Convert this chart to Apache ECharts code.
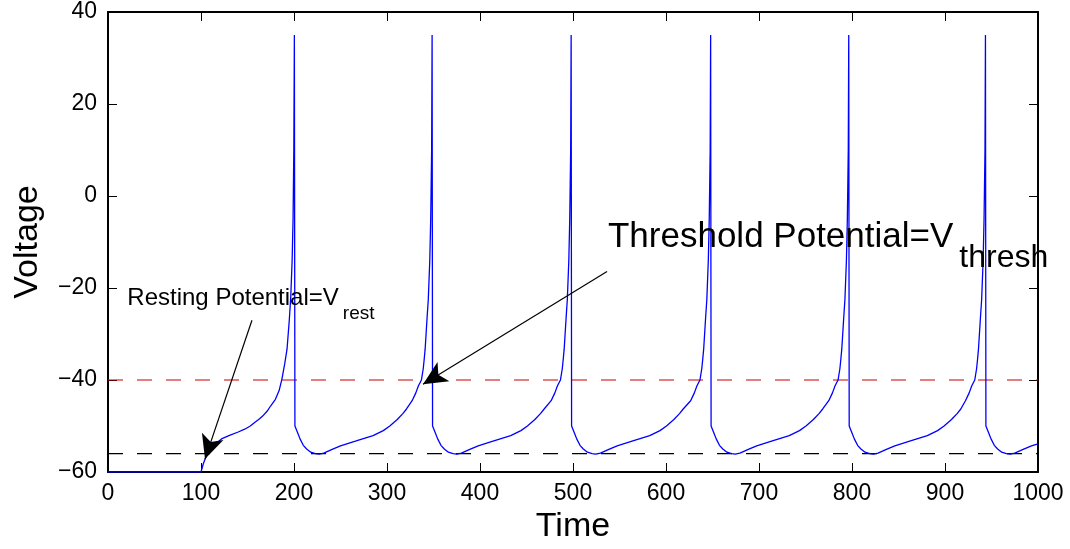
<!DOCTYPE html>
<html>
<head>
<meta charset="utf-8">
<script src="https://cdn.jsdelivr.net/npm/echarts@6/dist/echarts.min.js"></script>
<style>
html,body{margin:0;padding:0;background:#fff;}
#c{width:1070px;height:549px;}
</style>
</head>
<body>
<div id="c"></div>
<script>
// ---- data ----
const xTicks = [0, 100, 200, 300, 400, 500, 600, 700, 800, 900, 1000];
const yTicks = [-60, -40, -20, 0, 20, 40];
const thresholdV = -40;
const restV = -56;
// membrane trace [time, voltage]
const traceInitial = [[0,-60],[100,-60],[101,-59.3],[102.5,-58.2],[104,-57.4],[106,-56.5],[108,-55.8],[111,-54.9],[115,-54],[122,-52.8],[130,-52.1],[140,-51.3],[147,-50.7],[153,-50],[158,-49.2],[162,-48.6],[166,-47.9],[171,-46.8],[175,-45.6],[180,-44.2],[184,-42.3],[187,-39.8],[190,-36.5],[192.5,-33.3],[195,-26.8],[196.5,-22],[198,-14],[199,-5],[199.8,10],[200.4,35],[201,-50]];
const traceCycle1 = [[204,-51.5],[206.5,-52.8],[210,-54.2],[213.6,-55],[218,-55.7],[223,-56],[227,-56.1],[232,-55.9],[241,-55.1],[250,-54.3],[266,-53.3],[285,-52.1],[296,-51],[303,-50],[311,-48.6],[317,-47.3],[321,-46.3],[327,-44.5],[331,-42.8],[333.7,-41.3],[337,-40],[339,-37.5],[340,-35.5],[341,-33.3],[343,-26.8],[344.4,-22.5],[346,-14],[347,-5],[348,10],[348.5,35],[349,-50]];
const traceCycle2 = [[352,-51.5],[354.5,-52.8],[358,-54.2],[361.6,-55],[366,-55.7],[371,-56],[375,-56.1],[380,-55.9],[389,-55.1],[398,-54.3],[414,-53.3],[433,-52.1],[444,-51],[451,-50],[459,-48.6],[465,-47.3],[469,-46.3],[476.5,-44.5],[480.5,-42.8],[483.2,-41.3],[486.5,-40],[488.5,-37.5],[489.5,-35.5],[490.5,-33.3],[492.5,-26.8],[493.9,-22.5],[495.5,-14],[496.5,-5],[497.5,10],[498,35],[498.5,-50]];
const traceCycle3 = [[501.5,-51.5],[504,-52.8],[507.5,-54.2],[511.1,-55],[515.5,-55.7],[520.5,-56],[524.5,-56.1],[529.5,-55.9],[538.5,-55.1],[547.5,-54.3],[563.5,-53.3],[582.5,-52.1],[593.5,-51],[600.5,-50],[608.5,-48.6],[614.5,-47.3],[618.5,-46.3],[626.5,-44.5],[630.5,-42.8],[633.2,-41.3],[636.5,-40],[638.5,-37.5],[639.5,-35.5],[640.5,-33.3],[642.5,-26.8],[643.9,-22.5],[645.5,-14],[646.5,-5],[647.5,10],[648,35],[648.5,-50]];
const traceCycle4 = [[651.5,-51.5],[654,-52.8],[657.5,-54.2],[661.1,-55],[665.5,-55.7],[670.5,-56],[674.5,-56.1],[679.5,-55.9],[688.5,-55.1],[697.5,-54.3],[713.5,-53.3],[732.5,-52.1],[743.5,-51],[750.5,-50],[758.5,-48.6],[764.5,-47.3],[768.5,-46.3],[775,-44.5],[779,-42.8],[781.7,-41.3],[785,-40],[787,-37.5],[788,-35.5],[789,-33.3],[791,-26.8],[792.4,-22.5],[794,-14],[795,-5],[796,10],[796.5,35],[797,-50]];
const traceCycle5 = [[800,-51.5],[802.5,-52.8],[806,-54.2],[809.6,-55],[814,-55.7],[819,-56],[823,-56.1],[828,-55.9],[837,-55.1],[846,-54.3],[862,-53.3],[881,-52.1],[892,-51],[899,-50],[907,-48.6],[913,-47.3],[917,-46.3],[922,-44.5],[926,-42.8],[928.7,-41.3],[932,-40],[934,-37.5],[935,-35.5],[936,-33.3],[938,-26.8],[939.4,-22.5],[941,-14],[942,-5],[943,10],[943.5,35],[944,-50]];
const traceTail = [[947,-51.5],[949.5,-52.8],[953,-54.2],[956.6,-55],[961,-55.7],[966,-56],[970,-56.1],[975,-55.9],[984,-55.1],[993,-54.3],[1000,-53.9]];
// annotations (data coordinates)
const restArrow = [[154.8,-27.0],[104.3,-57.2]];
const threshArrow = [[536.6,-16.4],[338.7,-40.9]];
const restLabel = {pos:[20.8,-24.8], main:'Resting Potential=V', sub:'rest'};
const threshLabel = {pos:[537.6,-12.7], main:'Threshold Potential=V', sub:'thresh'};

const trace = [].concat(traceInitial, traceCycle1, traceCycle2, traceCycle3, traceCycle4, traceCycle5, traceTail);

const FONT = '"Liberation Sans", Arial, Helvetica, sans-serif';
const minus = v => String(v).replace('-', '\u2212');

const chart = echarts.init(document.getElementById('c'), null, {renderer:'canvas'});
const axisCommon = {min: 0, max: 1000, interval: 100};
const option = {
  animation: false,
  backgroundColor: '#fff',
  grid: {left: 108, right: 32, top: 12, bottom: 76, containLabel: false},
  xAxis: [
    Object.assign({type:'value', position:'bottom',
      name:'Time', nameLocation:'middle', nameGap:38,
      nameTextStyle:{fontSize:34, color:'#000', fontFamily:FONT},
      axisLine:{show:true, onZero:false, lineStyle:{color:'#000', width:2}},
      axisTick:{show:true, inside:true, length:9, lineStyle:{color:'#000', width:1}},
      axisLabel:{fontSize:23, color:'#000', fontFamily:FONT, margin:10, formatter:minus},
      splitLine:{show:false}}, axisCommon),
    Object.assign({type:'value', position:'top',
      axisLine:{show:true, onZero:false, lineStyle:{color:'#000', width:2}},
      axisTick:{show:true, inside:true, length:9, lineStyle:{color:'#000', width:1}},
      axisLabel:{show:false}, splitLine:{show:false}}, axisCommon)
  ],
  yAxis: [
    {type:'value', min:-60, max:40, interval:20, position:'left',
      name:'Voltage', nameLocation:'middle', nameGap:63, nameRotate:90,
      nameTextStyle:{fontSize:34, color:'#000', fontFamily:FONT},
      axisLine:{show:true, onZero:false, lineStyle:{color:'#000', width:2}},
      axisTick:{show:true, inside:true, length:9, lineStyle:{color:'#000', width:1}},
      axisLabel:{fontSize:23, color:'#000', fontFamily:FONT, margin:11, formatter:minus},
      splitLine:{show:false}},
    {type:'value', min:-60, max:40, interval:20, position:'right',
      axisLine:{show:true, onZero:false, lineStyle:{color:'#000', width:2}},
      axisTick:{show:true, inside:true, length:9, lineStyle:{color:'#000', width:1}},
      axisLabel:{show:false}, splitLine:{show:false}}
  ],
  series: [
    {type:'line', name:'threshold', data:[[0,thresholdV],[1000,thresholdV]], showSymbol:false, silent:true,
      lineStyle:{color:'#cc0000', width:1.1, type:[15,14]}, z:2},
    {type:'line', name:'rest', data:[[0,restV],[1000,restV]], showSymbol:false, silent:true,
      lineStyle:{color:'#000', width:1.1, type:[15,14]}, z:2},
    {type:'line', name:'V', data:trace, showSymbol:false, silent:true, clip:true,
      lineStyle:{color:'#0000ff', width:1.3}, z:3,
      markLine:{silent:true, animation:false, symbol:['none','arrow'], symbolSize:[17,24],
        label:{show:false}, lineStyle:{color:'#000', width:1.2, type:'solid'},
        emphasis:{disabled:true},
        data:[
          [{coord:restArrow[0]},{coord:restArrow[1]}],
          [{coord:threshArrow[0]},{coord:threshArrow[1]}]
        ]}}
  ]
};
chart.setOption(option);

const ctx = document.createElement('canvas').getContext('2d');
function labelGraphics(lbl, mainSize, subSize, subDrop, subGap){
  const p = chart.convertToPixel({gridIndex:0}, lbl.pos);
  ctx.font = mainSize + 'px ' + FONT;
  const w = ctx.measureText(lbl.main).width;
  return [
    {type:'text', x:p[0], y:p[1], z:100,
      style:{text:lbl.main, font:mainSize+'px '+FONT, fill:'#000', align:'left', verticalAlign:'bottom'}},
    {type:'text', x:p[0]+w+subGap, y:p[1]+subDrop, z:100,
      style:{text:lbl.sub, font:subSize+'px '+FONT, fill:'#000', align:'left', verticalAlign:'bottom'}}
  ];
}
const g = [].concat(labelGraphics(restLabel, 24, 19, 13, 4), labelGraphics(threshLabel, 35, 32, 20, 6));
chart.setOption({graphic: g});
</script>
</body>
</html>
